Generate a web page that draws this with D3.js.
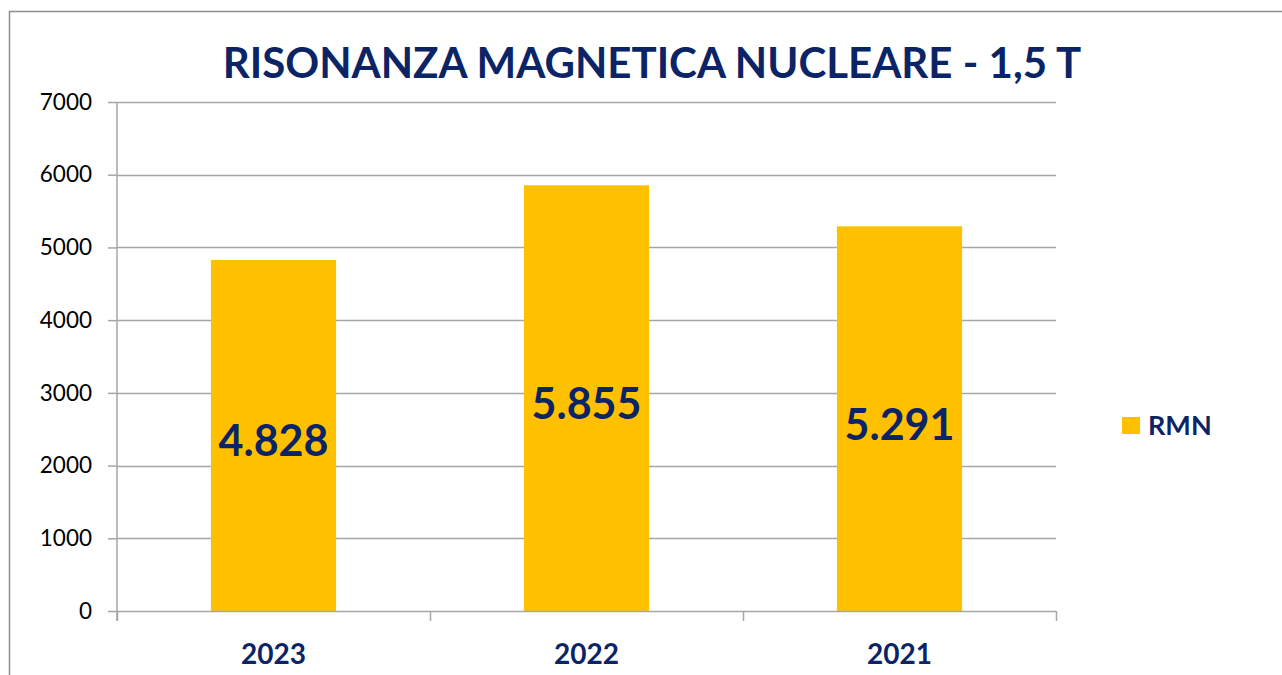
<!DOCTYPE html>
<html>
<head>
<meta charset="utf-8">
<script src="https://cdn.jsdelivr.net/npm/d3@7"></script>
<style>
  body { margin: 0; background: #fff; }
  svg text { font-family: Lato, "Open Sans", sans-serif; }
</style>
</head>
<body>
<div id="chart"></div>
<script>
// Chart data
var years = ["2023", "2022", "2021"];
var rmnValues = [4828, 5855, 5291];
var labels = ["4.828", "5.855", "5.291"];
var yTicks = [0, 1000, 2000, 3000, 4000, 5000, 6000, 7000];
var seriesName = "RMN";
var chartTitle = "RISONANZA MAGNETICA NUCLEARE - 1,5 T";

// Layout
var width = 1282;
var height = 675;
var plotLeft = 117, plotRight = 1056, plotTop = 102, plotBottom = 611;
var navy = "#0B2466";
var gold = "#FFC000";
var gridColor = "#A6A6A6";

var svg = d3.select("#chart")
    .append("svg")
    .attr("width", width)
    .attr("height", height);

// Outer chart border (top and left visible)
svg.append("path")
    .attr("d", "M9.5," + height + " V11.5 H" + width)
    .attr("fill", "none")
    .attr("stroke", "#8C8C8C")
    .attr("stroke-width", 1.5);

// Title
svg.append("text")
    .attr("x", 652)
    .attr("y", 78)
    .attr("text-anchor", "middle")
    .attr("fill", navy)
    .style("font-size", "42px")
    .style("font-weight", "bold")
    .text(chartTitle);

var x = d3.scaleBand()
    .domain(years)
    .range([plotLeft, plotRight])
    .paddingInner(0.6)
    .paddingOuter(0.3);

var y = d3.scaleLinear()
    .domain([0, 7000])
    .range([plotBottom, plotTop]);

// Gridlines
svg.append("g")
    .selectAll("line")
    .data(yTicks.filter(d => d > 0))
    .enter()
    .append("line")
    .attr("x1", plotLeft)
    .attr("x2", plotRight)
    .attr("y1", d => Math.round(y(d)) + 0.5)
    .attr("y2", d => Math.round(y(d)) + 0.5)
    .attr("stroke", gridColor)
    .attr("stroke-width", 1.5);

// Y axis
var yAxis = svg.append("g")
    .attr("transform", "translate(" + plotLeft + ",0)")
    .call(d3.axisLeft(y).tickValues(yTicks).tickSize(9).tickPadding(16).tickFormat(d3.format("d")));
yAxis.select(".domain").attr("d", "M0," + plotTop + " V" + (plotBottom + 10));
yAxis.selectAll("line, .domain").attr("stroke", gridColor).attr("stroke-width", 1.5);
yAxis.selectAll("text")
    .attr("fill", "#000")
    .style("font-size", "22.5px")
    .style("font-family", "Lato, 'Open Sans', sans-serif");

// Bars
svg.append("g")
    .selectAll("rect")
    .data(rmnValues)
    .enter()
    .append("rect")
    .attr("x", (d, i) => x(years[i]))
    .attr("y", d => y(d))
    .attr("width", x.bandwidth())
    .attr("height", d => y(0) - y(d))
    .attr("fill", gold);

// X axis (ticks at category boundaries)
var xAxisG = svg.append("g");
xAxisG.append("line")
    .attr("x1", plotLeft)
    .attr("x2", plotRight)
    .attr("y1", plotBottom + 0.5)
    .attr("y2", plotBottom + 0.5)
    .attr("stroke", gridColor)
    .attr("stroke-width", 1.5);
var step = x.step();
xAxisG.selectAll(".bound")
    .data(d3.range(years.length + 1))
    .enter()
    .append("line")
    .attr("class", "bound")
    .attr("x1", i => Math.round(plotLeft + i * step) + 0.5)
    .attr("x2", i => Math.round(plotLeft + i * step) + 0.5)
    .attr("y1", plotBottom)
    .attr("y2", plotBottom + 10)
    .attr("stroke", gridColor)
    .attr("stroke-width", 1.5);
xAxisG.selectAll(".xlab")
    .data(years)
    .enter()
    .append("text")
    .attr("x", d => x(d) + x.bandwidth() / 2)
    .attr("y", 664)
    .attr("text-anchor", "middle")
    .attr("fill", navy)
    .style("font-size", "28px")
    .style("font-weight", "bold")
    .text(d => d);

// Value labels in the middle of each bar
svg.append("g")
    .selectAll("text")
    .data(rmnValues)
    .enter()
    .append("text")
    .attr("x", (d, i) => x(years[i]) + x.bandwidth() / 2)
    .attr("y", d => (y(d) + y(0)) / 2 + 21)
    .attr("text-anchor", "middle")
    .attr("fill", navy)
    .style("font-size", "43px")
    .style("font-weight", "bold")
    .text((d, i) => labels[i]);

// Legend
var legend = svg.append("g").attr("id", "legend");
legend.append("rect")
    .attr("x", 1122)
    .attr("y", 417)
    .attr("width", 18)
    .attr("height", 17)
    .attr("fill", gold);
legend.append("text")
    .attr("x", 1148)
    .attr("y", 435)
    .attr("fill", navy)
    .style("font-size", "27px")
    .style("font-weight", "bold")
    .text(seriesName);
</script>
</body>
</html>
